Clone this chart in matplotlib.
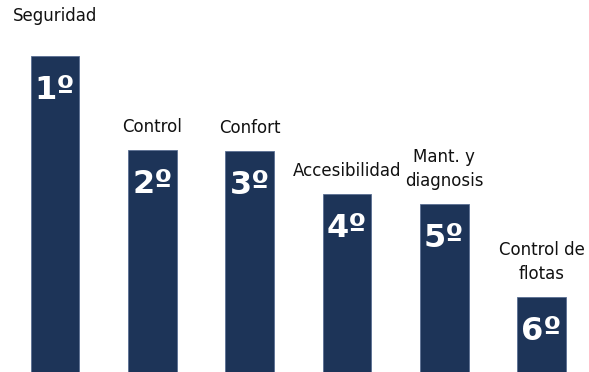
""" ranking de prioridades """
import matplotlib
matplotlib.use("Agg")
import matplotlib.pyplot as plt

categorias = ["Seguridad", "Control", "Confort", "Accesibilidad",
              "Mant. y\ndiagnosis", "Control de\nflotas"]
puestos = ["1º", "2º", "3º", "4º", "5º", "6º"]
valores = [316, 222, 221, 178, 168, 75]

AZUL = "#1d3458"


def main():
    """ main """
    fig = plt.figure(figsize=(5.89, 3.72), dpi=100)
    ax = fig.add_axes([0, 0, 1, 1])
    x = range(len(valores))
    ax.bar(x, valores, width=0.5, color=AZUL, edgecolor="#5a6f93", linewidth=0.6)
    for i, v in enumerate(valores):
        # etiqueta encima de la barra (la primera va algo más alta)
        gap = 31 if i == 0 else 14
        ax.annotate(categorias[i], (i, v), xytext=(0, gap), textcoords="offset pixels",
                    ha="center", va="bottom", fontsize=12, color="#111111",
                    linespacing=1.45)
        ax.annotate(puestos[i], (i, v), xytext=(0, -19), textcoords="offset pixels",
                    ha="center", va="top", fontsize=23, fontweight="heavy",
                    color="white")
    ax.set_xlim(-0.565, 5.488)
    ax.set_ylim(0, 372)
    ax.axis("off")
    fig.savefig("out.png", dpi=100, facecolor="white")


if __name__ == "__main__":
    main()
